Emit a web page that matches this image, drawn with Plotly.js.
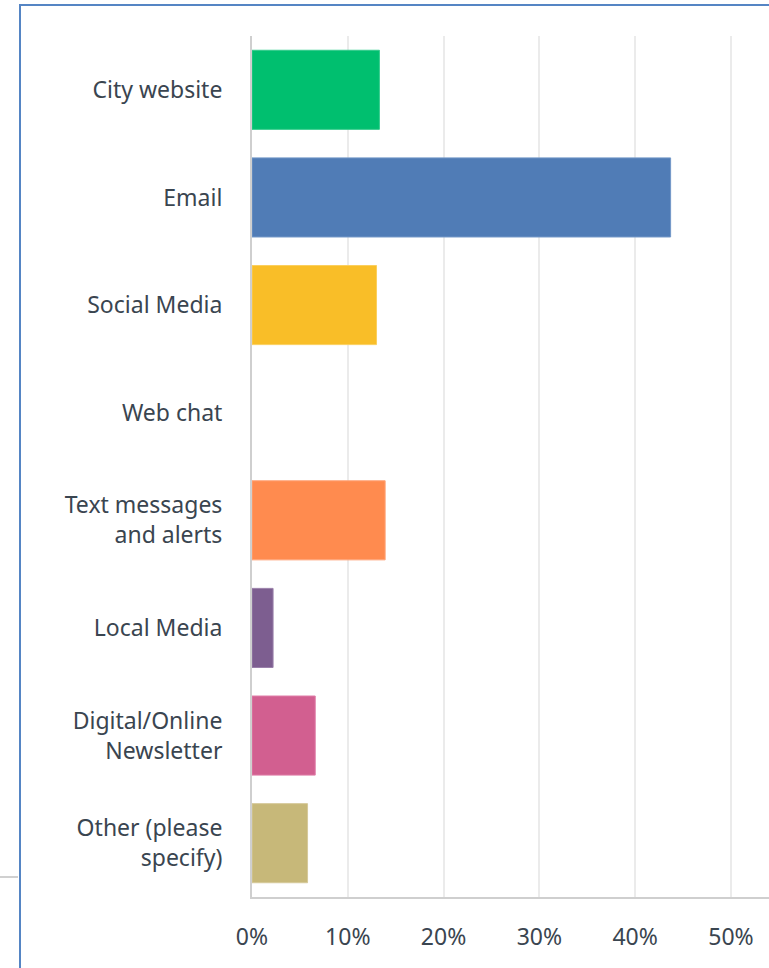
<!DOCTYPE html>
<html>
<head>
<meta charset="utf-8">
<script src="https://cdn.plot.ly/plotly-3.0.1.min.js"></script>
<style>
  html, body { margin: 0; padding: 0; background: #fff; }
  #wrap { position: relative; width: 769px; height: 968px; overflow: hidden; }
  #chart { position: absolute; left: 0; top: 0; width: 769px; height: 968px; }
  #frameL { position: absolute; left: 19px; top: 4px; width: 2px; height: 964px; background: #5585c4; }
  #frameT { position: absolute; left: 19px; top: 4px; width: 750px; height: 2px; background: #5585c4; }
  #grayL { position: absolute; left: 0; top: 876px; width: 18px; height: 2px; background: #d0d0d0; }
</style>
</head>
<body>
<div id="wrap">
  <div id="chart"></div>
  <div id="frameL"></div>
  <div id="frameT"></div>
  <div id="grayL"></div>
</div>
<script>
const categories = [
  "City website",
  "Email",
  "Social Media",
  "Web chat",
  "Text messages<br>and alerts",
  "Local Media",
  "Digital/Online<br>Newsletter",
  "Other (please<br>specify)"
];
const values = [13.3, 43.7, 13.0, 0, 13.9, 2.2, 6.6, 5.8];
const colors = ["#00BF6F", "#507CB6", "#F9BE28", "#6BC8CD", "#FF8B4F", "#7D5E90", "#D25F90", "#C7B879"];
const lineColors = ["#33cc8c", "#7398c8", "#fbcf5e", "rgba(0,0,0,0)", "#ffa57a", "#9a80aa", "#e07fa8", "#d5c99a"];
const tickVals = [0, 10, 20, 30, 40, 50];
const tickText = ["0%", "10%", "20%", "30%", "40%", "50%"];

const font = { family: "Noto Sans, sans-serif", size: 23, color: "#3a4550" };

const trace = {
  type: "bar",
  orientation: "h",
  y: categories,
  x: values,
  marker: { color: colors, line: { color: lineColors, width: 1 } },
  width: 0.735,
  hoverinfo: "none"
};

const layout = {
  width: 769,
  height: 968,
  margin: { l: 252, r: 0, t: 36, b: 71 },
  paper_bgcolor: "#ffffff",
  plot_bgcolor: "#ffffff",
  showlegend: false,
  font: font,
  xaxis: {
    range: [0, 53.97],
    tickvals: tickVals,
    ticktext: tickText,
    showgrid: true,
    gridcolor: "#ebebeb",
    gridwidth: 2,
    zeroline: false,
    showline: true,
    linecolor: "#cfcfcf",
    linewidth: 2,
    ticks: "",
    ticklabelstandoff: 18,
    tickfont: font,
    fixedrange: true
  },
  yaxis: {
    autorange: "reversed",
    type: "category",
    showgrid: false,
    zeroline: false,
    showline: true,
    linecolor: "#cfcfcf",
    linewidth: 2,
    ticks: "",
    ticklabelstandoff: 23,
    tickfont: font,
    fixedrange: true
  }
};

Plotly.newPlot("chart", [trace], layout, { displayModeBar: false, staticPlot: true });
</script>
</body>
</html>
